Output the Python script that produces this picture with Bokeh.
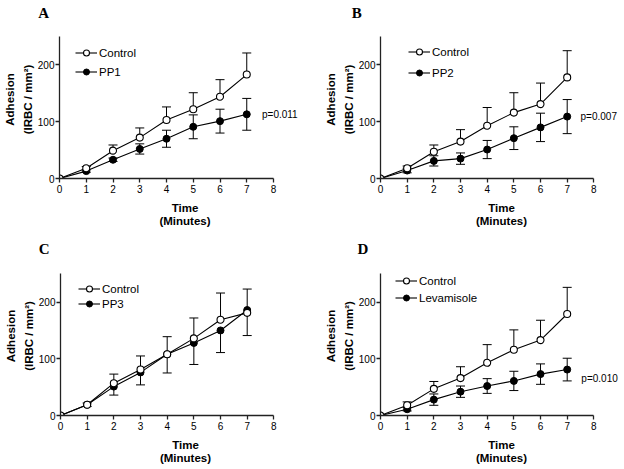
from bokeh.plotting import figure
from bokeh.layouts import column, row
from bokeh.models import (ColumnDataSource, Whisker, TeeHead, Label, Legend,
                          LegendItem, Range1d, FixedTicker, Title)
from bokeh.embed import file_html
from bokeh.resources import INLINE

# ---------------- data ----------------
time = [0, 1, 2, 3, 4, 5, 6, 7]
x_ticks = [0, 1, 2, 3, 4, 5, 6, 7, 8]
y_ticks = [0, 100, 200]

# Panel A
a_ctrl = [0, 18, 49, 72, 103, 122, 144, 183]
a_ctrl_err = [0, 3, 10, 17, 23, 29, 30, 38]
a_trt = [0, 13, 33, 52, 70, 91, 101, 113]
a_trt_err = [0, 2, 3, 9, 15, 21, 21, 28]

# Panel B
b_ctrl = [0, 18, 47, 65, 93, 116, 131, 178]
b_ctrl_err = [0, 4, 12, 21, 32, 35, 37, 47]
b_trt = [0, 14, 31, 35, 51, 71, 90, 109]
b_trt_err = [0, 4, 9, 10, 16, 20, 25, 30]

# Panel C
c_ctrl = [0, 19, 57, 81, 108, 136, 169, 181]
c_ctrl_err = [0, 3, 16, 24, 31, 36, 47, 42]
c_trt = [0, 19, 51, 76, 108, 128, 150, 186]
c_trt_err = [0, 3, 15, 22, 33, 38, 39, 45]

# Panel D
d_ctrl = [0, 18, 47, 66, 93, 116, 133, 179]
d_ctrl_err = [0, 6, 13, 20, 32, 35, 35, 47]
d_trt = [0, 11, 28, 42, 52, 61, 73, 81]
d_trt_err = [0, 3, 10, 10, 13, 17, 18, 20]

letters = ["A", "B", "C", "D"]
treatments = ["PP1", "PP2", "PP3", "Levamisole"]
p_texts = ["p=0.011", "p=0.007", None, "p=0.010"]
x_title = "Time\n(Minutes)"
y_title = "Adhesion\n(IRBC / mm\u00b2)"

SANS = "Liberation Sans"
SERIF = "Liberation Serif"


def make_panel(letter, trt_name, ctrl, ctrl_err, trt, trt_err, trt_upper,
               p_text, p_pos, W, H, L, B, T, kx, ky, letter_x, leg):
    R = 2
    xe = (W - L - R) / kx
    ye = (H - B - T) / ky
    p = figure(width=W, height=H, output_backend="svg", toolbar_location=None,
               x_range=Range1d(0, xe), y_range=Range1d(0, ye),
               min_border_left=L, min_border_right=R, min_border_top=T,
               min_border_bottom=B)
    p.title = Title(text=letter, align="left", offset=letter_x - L,
                    vertical_align="bottom",
                    text_font=SERIF, text_font_style="bold", text_font_size="15px",
                    text_color="black", standoff=0)
    p.outline_line_color = None
    p.xgrid.visible = False
    p.ygrid.visible = False
    p.background_fill_color = "white"
    p.border_fill_color = "white"

    for ax, bounds, ticks in ((p.xaxis[0], (0, 8), x_ticks), (p.yaxis[0], (0, 250), y_ticks)):
        ax.bounds = bounds
        ax.ticker = FixedTicker(ticks=ticks)
        ax.minor_tick_line_color = None
        ax.major_tick_in = 0
        ax.major_tick_out = 4
        ax.axis_line_color = "#222222"
        ax.axis_line_width = 1.3
        ax.major_tick_line_color = "#222222"
        ax.major_tick_line_width = 1.3
        ax.major_label_text_font = SANS
        ax.major_label_text_font_size = "10px"
        ax.major_label_text_color = "black"
        ax.axis_label_text_font = SANS
        ax.axis_label_text_font_style = "bold"
        ax.axis_label_text_font_size = "11.5px"
        ax.axis_label_text_color = "black"
        ax.axis_label_text_align = "center"
    p.xaxis.major_label_standoff = 2
    p.yaxis.major_label_standoff = 1
    p.xaxis.axis_label = x_title
    p.yaxis.axis_label = y_title
    p.xaxis.axis_label_standoff = 6
    p.yaxis.axis_label_standoff = 1
    p.xaxis.axis_label_text_line_height = 1.15
    p.yaxis.axis_label_text_line_height = 1.5

    src = ColumnDataSource(dict(
        t=time, ctrl=ctrl, trt=trt,
        ctrl_hi=[v + e for v, e in zip(ctrl, ctrl_err)],
        trt_hi=[v + e for v, e in zip(trt, trt_err)] if trt_upper else trt,
        trt_lo=[v - e for v, e in zip(trt, trt_err)],
    ))

    # error bars
    p.add_layout(Whisker(source=src, base="t", upper="trt_hi", lower="trt_lo",
                         line_color="black", line_width=1,
                         upper_head=TeeHead(size=9, line_color="black", line_width=1) if trt_upper else None,
                         lower_head=TeeHead(size=9, line_color="black", line_width=1)))
    p.add_layout(Whisker(source=src, base="t", upper="ctrl_hi", lower="ctrl",
                         line_color="black", line_width=1,
                         upper_head=TeeHead(size=9, line_color="black", line_width=1),
                         lower_head=None))

    tl = p.line("t", "trt", source=src, line_color="black", line_width=1.1)
    ts = p.scatter("t", "trt", source=src, marker="circle", size=7,
                   fill_color="black", line_color="black", line_width=1)
    cl = p.line("t", "ctrl", source=src, line_color="black", line_width=1.1)
    cs = p.scatter("t", "ctrl", source=src, marker="circle", size=7,
                   fill_color="white", line_color="black", line_width=1.1)

    # legend
    gh = 15
    dx, row1, row2 = leg
    spacing = int(round(row1 - row2)) - gh
    legend = Legend(items=[LegendItem(label="Control", renderers=[cl, cs]),
                           LegendItem(label=trt_name, renderers=[tl, ts])],
                    glyph_width=22, glyph_height=gh, label_height=gh,
                    spacing=spacing, label_standoff=2, padding=0, margin=0,
                    border_line_color=None, background_fill_alpha=0,
                    label_text_font=SANS, label_text_font_size="11.5px",
                    label_text_color="black")
    legend.location = (int(round(dx)), int(round(row2 - gh / 2)))
    p.add_layout(legend)

    if p_text:
        p.add_layout(Label(x=p_pos[0], y=p_pos[1], text=p_text, text_font=SANS,
                           text_font_size="10px", text_color="black",
                           text_align="left", text_baseline="middle"))
    return p


pa = make_panel(letters[0], treatments[0], a_ctrl, a_ctrl_err, a_trt, a_trt_err, True,
                p_texts[0], (7.57, 113), 312, 235, 59, 57, 20, 26.75, 0.568,
                37.7, (15.7, 125.7, 106.7))
pb = make_panel(letters[1], treatments[1], b_ctrl, b_ctrl_err, b_trt, b_trt_err, True,
                p_texts[1], (7.5, 108.6), 312, 235, 68, 57, 20, 26.67, 0.568,
                39.3, (28.4, 127, 106))
pc = make_panel(letters[2], treatments[2], c_ctrl, c_ctrl_err, c_trt, c_trt_err, False,
                p_texts[2], None, 312, 234, 60, 54, 21, 26.67, 0.567,
                38.3, (18.3, 126.7, 111.7))
pd = make_panel(letters[3], treatments[3], d_ctrl, d_ctrl_err, d_trt, d_trt_err, True,
                p_texts[3], (7.53, 66), 312, 234, 68, 54, 21, 26.67, 0.567,
                45, (15, 135, 117.7))

layout = column(row(pa, pb), row(pc, pd))
open("out.html", "w").write(file_html(layout, INLINE))
